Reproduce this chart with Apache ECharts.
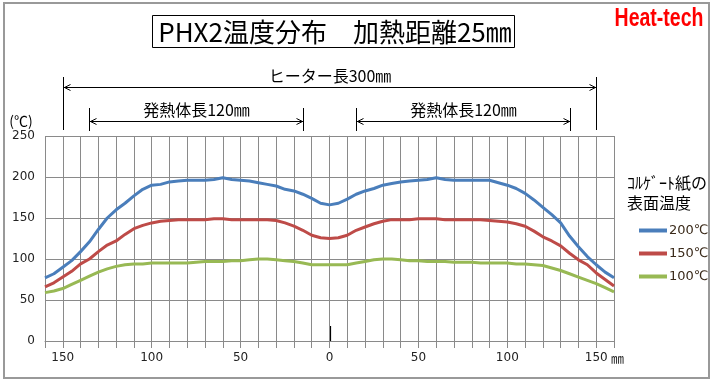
<!DOCTYPE html>
<html><head><meta charset="utf-8">
<script src="https://cdn.jsdelivr.net/npm/echarts@6/dist/echarts.min.js"></script>
<style>html,body{margin:0;padding:0;background:#fff}#c{width:718px;height:386px}</style>
</head><body><div id="c"></div>
<script>
// position along heater (mm)
const positions = [-160,-155,-150,-145,-140,-135,-130,-125,-120,-115,-110,-105,-100,-95,-90,-85,-80,-75,-70,-65,-60,-55,-50,-45,-40,-35,-30,-25,-20,-15,-10,-5,0,5,10,15,20,25,30,35,40,45,50,55,60,65,70,75,80,85,90,95,100,105,110,115,120,125,130,135,140,145,150,155,160];
const temp200 = [77,82,90,98,109,121,136,150,160,168,177,185,190,191,194,195,196,196,196,197,199,197,196,195,193,191,189,185,183,179,174,168,166,168,173,179,183,186,190,192,194,195,196,197,199,197,196,196,196,196,196,193,190,186,180,172,163,154,144,128,115,103,93,84,77];
const temp150 = [66,71,78,85,94,100,109,117,122,130,137,141,144,146,147,148,148,148,148,149,149,148,148,148,148,148,147,144,140,135,129,126,125,126,129,135,139,143,146,148,148,148,149,149,149,148,148,148,148,148,147,146,145,143,140,134,127,122,116,107,99,93,83,75,67];
const temp100 = [59,61,64,69,74,79,84,88,91,93,94,94,95,95,95,95,95,96,97,97,97,98,98,99,100,100,99,98,97,95,93,93,93,93,93,95,97,99,100,100,99,98,98,97,97,97,96,96,96,95,95,95,95,94,94,93,92,89,86,82,78,74,70,65,60];
const seriesNames = ['200℃','150℃','100℃'];
const seriesColors = ['#4A7EBB','#BE4B48','#98B954'];
const xLabelValues = [-150,-100,-50,0,50,100,150];
const heaterSpan = [-150,150];
const elementSpans = [[-135,-15],[15,135]];
const titleText = 'PHX2温度分布　加熱距離25㎜';
const heaterText = 'ヒーター長300㎜';
const elementText = '発熱体長120㎜';
const legendTitle = ['ｺﾙｹﾞｰﾄ紙の','表面温度'];

const allTemps = [temp200, temp150, temp100];
const chart = echarts.init(document.getElementById('c'), null, {renderer:'canvas'});
const gridColor = '#8a8a8a';
const option = {
  animation: false,
  backgroundColor: '#fff',
  grid: {left: 45, top: 136, width: 569, height: 205, containLabel: false},
  xAxis: {
    type: 'value', min: -160, max: 160, interval: 10,
    axisLine: {show: true, lineStyle: {color: gridColor, width: 1}},
    axisTick: {show: true, length: 7, lineStyle: {color: gridColor}},
    splitLine: {show: true, lineStyle: {color: gridColor, width: 1}},
    axisLabel: {
      margin: 11, color: '#222', fontSize: 12, fontFamily: 'DejaVu Sans',
      formatter: v => xLabelValues.indexOf(v) >= 0 ? String(Math.abs(v)) : ''
    }
  },
  yAxis: {
    type: 'value', min: 0, max: 250, interval: 50,
    axisLine: {show: true, lineStyle: {color: gridColor, width: 1}},
    axisTick: {show: true, length: 5, lineStyle: {color: gridColor}},
    splitLine: {show: true, lineStyle: {color: gridColor, width: 1}},
    axisLabel: {margin: 10, color: '#222', fontSize: 12, fontFamily: 'DejaVu Sans'}
  },
  legend: {
    orient: 'vertical', left: 634, top: 219, itemWidth: 28, itemHeight: 4, itemGap: 10,
    icon: 'rect',
    textStyle: {fontSize: 13, color: '#3a2a1a', fontFamily: 'DejaVu Sans', padding: [0,0,0,-3]},
    data: seriesNames
  },
  series: allTemps.map((arr, i) => ({
    name: seriesNames[i], type: 'line', showSymbol: false, symbol: 'none',
    color: seriesColors[i],
    lineStyle: {width: 3, color: seriesColors[i]},
    data: positions.map((p, j) => [p, arr[j]])
  }))
};
chart.setOption(option);

const px = v => chart.convertToPixel({xAxisIndex: 0}, v);
const py = v => chart.convertToPixel({yAxisIndex: 0}, v);
const g = [];
const line = (x1,y1,x2,y2,color,w) => g.push({type:'line', shape:{x1,y1,x2,y2}, style:{stroke: color||'#000', lineWidth: w||1}, silent:true});
const text = (x,y,t,opt,extra) => g.push(Object.assign({type:'text', x, y, silent:true, style: Object.assign({text:t, fill:'#000', font:'16px "Noto Sans CJK JP"', textAlign:'center', textVerticalAlign:'middle'}, opt||{})}, extra||{}));
function dimArrow(a, b, y, vTop, vBot, label, labelY) {
  const xa = Math.round(px(a)) + 0.5, xb = Math.round(px(b)) + 0.5;
  line(xa, vTop, xa, vBot);
  line(xb, vTop, xb, vBot);
  line(xa, y, xb, y);
  g.push({type:'polyline', shape:{points:[[xa+7,y-3],[xa+1,y],[xa+7,y+3]]}, style:{stroke:'#000', lineWidth:1, fill:null}});
  g.push({type:'polyline', shape:{points:[[xb-7,y-3],[xb-1,y],[xb-7,y+3]]}, style:{stroke:'#000', lineWidth:1, fill:null}});
  text((xa+xb)/2, labelY, label);
}
// outer border
g.push({type:'rect', shape:{x:4, y:3, width:705, height:375}, style:{stroke:'#999', lineWidth:2, fill:null}, silent:true});
// title box
g.push({type:'rect', shape:{x:152.5, y:15.5, width:362, height:32}, style:{stroke:'#000', lineWidth:1, fill:null}, silent:true});
text(335, 32, titleText, {font:'26px "Noto Sans CJK JP"'});
// logo (condensed bold)
text(659, 19, 'Heat-tech', {font:'bold 25px "Liberation Sans"', fill:'#ff0000'}, {scaleX: 0.78, scaleY: 1.05});
// dimension annotations
dimArrow(heaterSpan[0], heaterSpan[1], 87.5, 77, 130, heaterText, 76);
elementSpans.forEach(s => dimArrow(s[0], s[1], 121.5, 108, 131, elementText, 110));
// zero marker
const x0 = Math.round(px(0)) + 0.5;
line(x0, py(0) - 15, x0, py(0), '#000', 1.2);
// unit labels
text(21, 121, '(℃)', {font:'14px "Noto Sans CJK JP"'});
text(Math.round(px(160)) - 3, py(0) + 17, '㎜', {font:'13px "Noto Sans CJK JP"', textAlign:'left', fill:'#222'});
// legend title
text(627, 183, legendTitle[0], {font:'16px "Noto Sans CJK JP"', textAlign:'left'});
text(627, 203, legendTitle[1], {font:'16px "Noto Sans CJK JP"', textAlign:'left'});
chart.setOption({graphic: {elements: g}});
</script></body></html>
